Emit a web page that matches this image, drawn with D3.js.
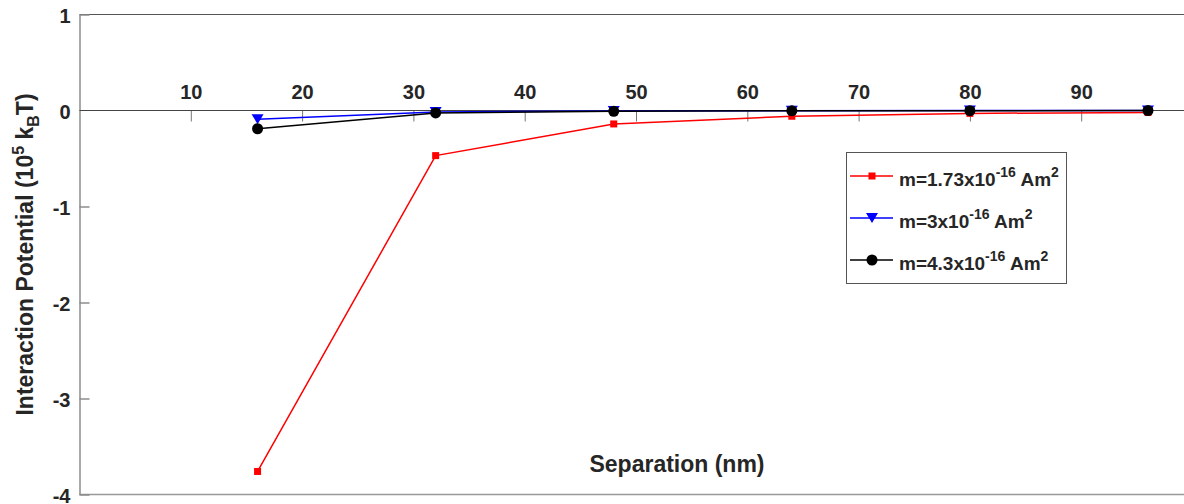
<!DOCTYPE html>
<html>
<head>
<meta charset="utf-8">
<script src="https://cdn.jsdelivr.net/npm/d3@7"></script>
<style>
  html, body { margin: 0; padding: 0; background: #fff; }
  svg { display: block; font-family: "Liberation Sans", Arial, Helvetica, sans-serif; }
</style>
</head>
<body>
<svg id="chart" width="1184" height="504"></svg>
<script>
// Separation in nm
const separation = [16, 32, 48, 64, 80, 96];
// Interaction potential in units of 10^5 kBT
const seriesRed   = [-3.76, -0.47, -0.14, -0.06, -0.03, -0.02];
const seriesBlue  = [-0.09, -0.015, -0.005, -0.002, -0.001, -0.001];
const seriesBlack = [-0.19, -0.025, -0.008, -0.003, -0.002, -0.001];
const xTicks = [10, 20, 30, 40, 50, 60, 70, 80, 90];
const yTicks = [1, 0, -1, -2, -3, -4];
const legendMantissa = ["1.73", "3", "4.3"];

const svg = d3.select("#chart");
const plotLeft = 79.5, plotTop = 14.5, plotBottom = 494.5;
const x = d3.scaleLinear().domain([0, 100]).range([plotLeft, plotLeft + 1113]);
const y = d3.scaleLinear().domain([-4, 1]).range([plotBottom, plotTop]);

const tickColor = "#262626";
const fmt = d => String(d); // plain hyphen for negatives

// frame: top and bottom edges
svg.append("line").attr("x1", plotLeft).attr("x2", 1184).attr("y1", plotTop).attr("y2", plotTop)
  .attr("stroke", "#555").attr("stroke-width", 1.2);
svg.append("line").attr("x1", plotLeft).attr("x2", 1184).attr("y1", plotBottom).attr("y2", plotBottom)
  .attr("stroke", "#999").attr("stroke-width", 1.5);

// y axis on the left, ticks pointing inward
const yAxis = d3.axisLeft(y).tickValues(yTicks).tickSizeInner(-10).tickSizeOuter(0).tickPadding(9)
  .tickFormat(fmt);
const gy = svg.append("g").attr("transform", `translate(${plotLeft},0)`).call(yAxis);
gy.select(".domain").attr("stroke", "#8c8c8c").attr("stroke-width", 1.5);
gy.selectAll(".tick line").attr("stroke", "#8c8c8c").attr("stroke-width", 1.5);
gy.selectAll(".tick text").attr("fill", tickColor).attr("font-size", 20).attr("font-weight", "bold")
  .attr("dy", "0.4em");
gy.selectAll(".tick").filter(d => d === 0).select("line").remove();

// x axis through the origin, labels above, ticks below
const xAxis = d3.axisTop(x).tickValues(xTicks).tickSizeInner(-11).tickSizeOuter(0).tickPadding(12)
  .tickFormat(fmt);
const gx = svg.append("g").attr("transform", `translate(0,${y(0)})`).call(xAxis);
gx.select(".domain").remove();
gx.append("line").attr("x1", plotLeft).attr("x2", 1184).attr("y1", 0).attr("y2", 0)
  .attr("stroke", "#444").attr("stroke-width", 1);
gx.selectAll(".tick line").attr("stroke", "#777").attr("stroke-width", 1);
gx.selectAll(".tick text").attr("fill", tickColor).attr("font-size", 20).attr("font-weight", "bold");

// axis titles
svg.append("text").attr("x", 677).attr("y", 472).attr("text-anchor", "middle")
  .attr("font-size", 23).attr("font-weight", "bold").attr("fill", tickColor)
  .text("Separation (nm)");

const yl = svg.append("text").attr("transform", `translate(33,${(plotTop + plotBottom) / 2}) rotate(-90)`)
  .attr("text-anchor", "middle").attr("font-size", 23).attr("font-weight", "bold").attr("fill", tickColor);
yl.append("tspan").text("Interaction Potential (10");
yl.append("tspan").attr("dy", -9).attr("font-size", 16).text("5");
yl.append("tspan").attr("dy", 9).text(" k");
yl.append("tspan").attr("dy", 6).attr("font-size", 16).text("B");
yl.append("tspan").attr("dy", -6).text("T)");

// series
const series = [
  { values: seriesRed, color: "#ff0000", marker: "square", mant: legendMantissa[0] },
  { values: seriesBlue, color: "#0000ff", marker: "tri", mant: legendMantissa[1] },
  { values: seriesBlack, color: "#000000", marker: "circle", mant: legendMantissa[2] }
];

const line = d3.line().x(d => x(d[0])).y(d => y(d[1]));

function drawMarker(g, type, cx, cy, color) {
  if (type === "square") {
    g.append("rect").attr("x", cx - 3.5).attr("y", cy - 3.5).attr("width", 7).attr("height", 7).attr("fill", color);
  } else if (type === "tri") {
    g.append("path").attr("d", `M${cx - 6},${cy - 5}L${cx + 6},${cy - 5}L${cx},${cy + 5}Z`).attr("fill", color);
  } else {
    g.append("circle").attr("cx", cx).attr("cy", cy).attr("r", 5.5).attr("fill", color);
  }
}

series.forEach(s => {
  const pts = separation.map((v, i) => [v, s.values[i]]);
  svg.append("path").datum(pts).attr("d", line).attr("fill", "none")
    .attr("stroke", s.color).attr("stroke-width", 1.5);
  const mg = svg.append("g");
  pts.forEach(p => drawMarker(mg, s.marker, x(p[0]), y(p[1]), s.color));
});

// legend
const lg = svg.append("g");
lg.append("rect").attr("x", 846.5).attr("y", 152.5).attr("width", 220).attr("height", 131)
  .attr("fill", "#fff").attr("stroke", "#555").attr("stroke-width", 1);
series.forEach((s, i) => {
  const ry = 176 + i * 42;
  lg.append("line").attr("x1", 850).attr("x2", 893).attr("y1", ry).attr("y2", ry)
    .attr("stroke", s.color).attr("stroke-width", 1.5);
  drawMarker(lg, s.marker, 872, ry, s.color);
  const t = lg.append("text").attr("x", 899).attr("y", ry + 10).attr("font-size", 19)
    .attr("font-weight", "bold").attr("fill", tickColor);
  t.append("tspan").text(`m=${s.mant}x10`);
  t.append("tspan").attr("dy", -9).attr("font-size", 14).text("-16");
  t.append("tspan").attr("dy", 9).text(" Am");
  t.append("tspan").attr("dy", -9).attr("font-size", 14).text("2");
});
</script>
</body>
</html>
